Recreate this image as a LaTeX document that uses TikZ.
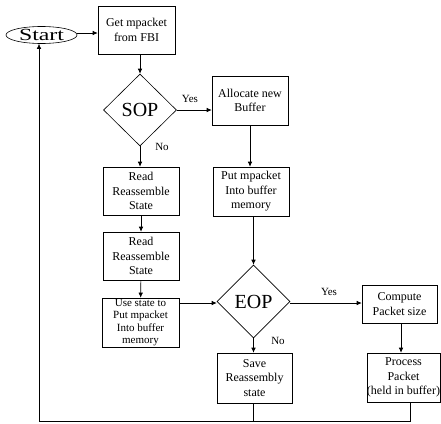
\documentclass[tikz,border=0pt]{standalone}
\usepackage{fontspec}
\setmainfont{Liberation Serif}
\usetikzlibrary{shapes.geometric,arrows.meta}

\begin{document}
\begin{tikzpicture}[x=1pt,y=-1pt,
    box/.style={rectangle,draw,inner sep=0pt,align=center,
      font=\fontsize{12}{14.5}\selectfont},
    decision/.style={diamond,draw,inner sep=0pt,minimum width=73pt,
      minimum height=72pt,font=\fontsize{20}{22}\selectfont},
    terminal/.style={ellipse,draw,inner sep=0pt,minimum width=71pt,
      minimum height=17pt,text height=11pt,text depth=0pt,
      font=\fontsize{17}{19}\selectfont},
    lbl/.style={inner sep=0pt,font=\fontsize{11}{13}\selectfont},
    flow/.style={-{Latex[length=5pt,width=4.5pt]},line width=0.6pt},
    line width=0.6pt]
    \useasboundingbox (0,0) rectangle (441,423);
    % first column
    \node[terminal] (start) at (41.5,35) {\scalebox{1.4}[1]{Start}};
    \node[box,minimum width=77pt,minimum height=48pt] (get) at (136.5,30)
      {Get mpacket\\from FBI};
    \node[decision] (sop) at (140,110) {SOP};
    \node[box,minimum width=76pt,minimum height=49pt] (alloc) at (250,100.5)
      {Allocate new\\Buffer};
    \node[box,minimum width=76pt,minimum height=48pt] (read1) at (141,191)
      {Read\\Reassemble\\State};
    \node[box,minimum width=76pt,minimum height=48pt] (read2) at (141,256)
      {Read\\Reassemble\\State};
    \node[box,minimum width=77pt,minimum height=49pt,
      font=\fontsize{11}{12.5}\selectfont] (use) at (140.5,322.5)
      {Use state to\\Put mpacket\\Into buffer\\memory};
    % second column
    \node[box,minimum width=76pt,minimum height=49pt] (put) at (251,191.5)
      {Put mpacket\\Into buffer\\memory};
    \node[decision,minimum height=73pt] (eop) at (253.5,301.5) {EOP};
    \node[box,minimum width=75pt,minimum height=50pt] (save) at (254.5,378)
      {Save\\Reassembly\\state};
    % third column
    \node[box,minimum width=75pt,minimum height=38pt] (compute) at (399.5,304)
      {Compute\\Packet size};
    \node[box,minimum width=73pt,minimum height=49pt] (process) at (403.5,377.5)
      {Process\\Packet\\(held in buffer)};
    % labels
    \node[lbl] (yes1) at (190,99) {Yes};
    \node[lbl] (no1) at (162,147) {No};
    \node[lbl] (yes2) at (329,292) {Yes};
    \node[lbl] (no2) at (278,341) {No};
    % connectors
    \coordinate (loopR) at (410,421);
    \coordinate (loopM) at (253,421);
    \coordinate (loopL) at (39,421);
    \draw[flow] (start.east |- 0,33) -- (get.west |- 0,33);
    \draw[flow] (get.south -| sop.north) -- (sop.north);
    \draw[flow] (sop.east) -- (sop.east -| alloc.west);
    \draw[flow] (sop.south) -- (read1.north -| sop.south);
    \draw[flow] (alloc.south) -- (put.north -| alloc.south);
    \draw[flow] (read1) -- (read2);
    \draw[flow] (read2) -- (use);
    \draw[flow] (put.south -| eop.north) -- (eop.north);
    \draw[flow] (use.east |- 0,303) -- (eop.west |- 0,303);
    \draw[flow] (eop.east |- 0,303) -- (compute.west |- 0,303);
    \draw[flow] (eop.south) -- (save.north -| eop.south);
    \draw[flow] (compute.south -| 401,0) -- (process.north -| 401,0);
    \draw (save.south -| loopM) -- (loopM);
    \draw (process.south -| loopR) -- (loopR) -- (loopL);
    \draw[flow] (loopL) -- (loopL |- start.south);
\end{tikzpicture}
\end{document}
